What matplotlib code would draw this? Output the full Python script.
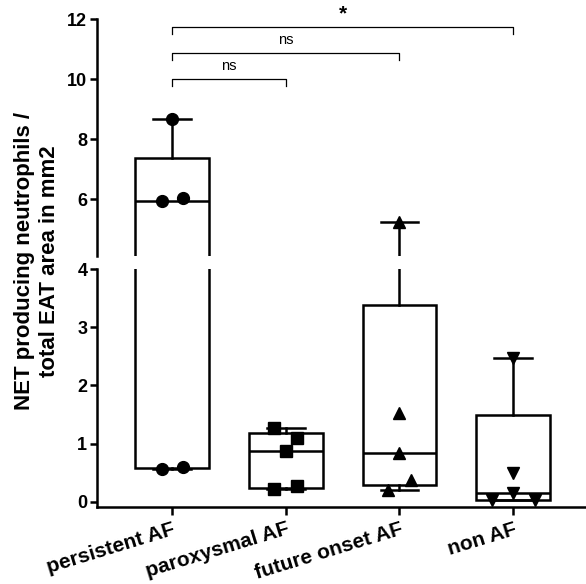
import matplotlib
matplotlib.use("Agg")
import matplotlib.pyplot as plt
import numpy as np

plt.rcParams["font.family"] = ["Liberation Sans", "DejaVu Sans"]

GROUPS = ["persistent AF", "paroxysmal AF", "future onset AF", "non AF"]
MARKERS = ["o", "s", "^", "v"]

# values
persistent = [8.67, 6.05, 5.95, 0.60, 0.57]
paroxysmal = [1.27, 1.10, 0.87, 0.27, 0.22]
future_onset = [5.23, 1.53, 0.84, 0.38, 0.20]
non_af = [2.47, 0.50, 0.15, 0.04, 0.04]
# horizontal scatter of the dots (GraphPad style)
persistent_dx = [0.0, 0.10, -0.09, 0.10, -0.09]
paroxysmal_dx = [-0.10, 0.10, 0.0, 0.10, -0.10]
future_onset_dx = [0.0, 0.0, 0.0, 0.10, -0.10]
non_af_dx = [0.0, 0.0, 0.0, -0.19, 0.19]

# comparisons: (group a, group b, label)
COMPARISONS = [(0, 1, "ns"), (0, 2, "ns"), (0, 3, "*")]
BRACKET_Y = [10.0, 10.87, 11.73]

data = [persistent, paroxysmal, future_onset, non_af]
offsets = [persistent_dx, paroxysmal_dx, future_onset_dx, non_af_dx]

LW = 1.8
stats = []
for vals in data:
    q1, med, q3 = np.percentile(vals, [25, 50, 75], method="weibull")
    stats.append(dict(med=med, q1=q1, q3=q3, whislo=min(vals),
                      whishi=max(vals), fliers=[]))

fig = plt.figure(figsize=(5.86, 5.84), dpi=100)
left, width = 97 / 586, 489 / 586
ax_top = fig.add_axes([left, 1 - 256 / 584, width, 237 / 584])
ax_bot = fig.add_axes([left, 1 - 507 / 584, width, 238 / 584])

pos = np.arange(len(GROUPS))
for ax in (ax_top, ax_bot):
    ax.bxp(stats, positions=pos, widths=0.65, capwidths=0.33,
           showfliers=False, patch_artist=True,
           boxprops=dict(facecolor="white", edgecolor="black", linewidth=LW),
           medianprops=dict(color="black", linewidth=LW),
           whiskerprops=dict(color="black", linewidth=LW),
           capprops=dict(color="black", linewidth=LW))
    for i, (vals, dx) in enumerate(zip(data, offsets)):
        ax.plot(pos[i] + np.array(dx), vals, linestyle="none",
                marker=MARKERS[i], markersize=8.5, color="black", zorder=5)
    ax.set_xlim(-0.66, 3.64)
    for s in ("top", "right"):
        ax.spines[s].set_visible(False)
    ax.spines["left"].set_linewidth(LW)
    ax.tick_params(axis="y", direction="out", length=5, width=LW,
                   labelsize=13, pad=2)

ax_top.set_ylim(4.1, 12)
ax_top.set_yticks([6, 8, 10, 12])
ax_top.spines["bottom"].set_visible(False)
ax_top.set_xticks([])

ax_bot.set_ylim(-0.086, 4)
ax_bot.set_yticks([0, 1, 2, 3, 4])
ax_bot.spines["bottom"].set_linewidth(LW)
ax_bot.set_xticks(pos)
ax_bot.tick_params(axis="x", direction="out", length=6, width=LW, pad=3)
ax_bot.set_xticklabels(GROUPS, rotation=17, ha="right", rotation_mode="anchor",
                       fontsize=15, fontweight="bold")

for ax in (ax_top, ax_bot):
    for lab in ax.get_yticklabels():
        lab.set_fontweight("bold")

# significance brackets
for (a, b, txt), y in zip(COMPARISONS, BRACKET_Y):
    ax_top.plot([a, a, b, b], [y - 0.23, y, y, y - 0.23], color="black",
                linewidth=0.9, clip_on=False)
    if txt == "*":
        ax_top.text((a + b) / 2, y + 0.12, txt, ha="center", va="bottom",
                    fontsize=15, fontweight="bold", clip_on=False)
    else:
        ax_top.text((a + b) / 2, y + 0.2, txt, ha="center", va="bottom",
                    fontsize=10.5)

fig.text(37 / 586, 1 - 261 / 584,
         "NET producing neutrophils /\ntotal EAT area in mm2",
         rotation=90, ha="center", va="center", multialignment="center",
         fontsize=16, fontweight="bold", linespacing=1.2)

fig.savefig("out.png", dpi=100)
